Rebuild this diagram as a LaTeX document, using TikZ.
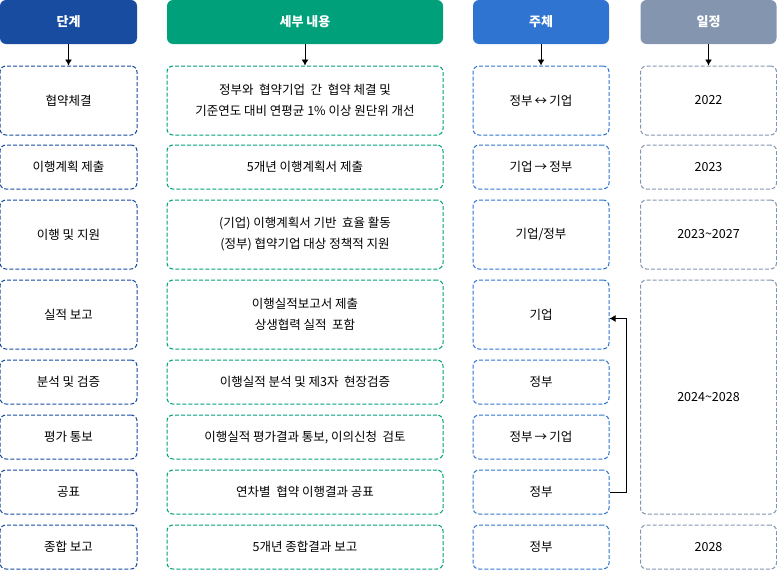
\documentclass[tikz,border=0pt]{standalone}
\usepackage{fontspec}
\setmainfont{Noto Sans CJK KR}
\usepackage{tikz}
\usetikzlibrary{arrows.meta}
\definecolor{stepblue}{RGB}{24,76,160}
\definecolor{textgreen}{RGB}{0,160,122}
\definecolor{whoblue}{RGB}{46,116,208}
\definecolor{dategray}{RGB}{132,150,175}
\tikzset{head/.style={rectangle, rounded corners=6pt, inner sep=0pt, minimum height=44pt, text=white, font=\bfseries\fontsize{13}{16}\selectfont},
  box/.style={rectangle, rounded corners=6pt, dash pattern=on 4pt off 2pt, line width=1pt, inner sep=0pt, align=center, font=\fontsize{12.5}{21}\selectfont}}
\tikzstyle{arrow} = [line width=0.9pt,-{Latex[length=6pt,width=7pt]}]

\begin{document}
\begin{tikzpicture}[x=1pt,y=-1pt]
% 画布大小 与原图一致
\useasboundingbox (0,0) rectangle (777,570);
% 四个表头
\node[head, fill=stepblue, minimum width=137pt] (h1) at (68.5,22) {단계};
\node[head, fill=textgreen, minimum width=276pt] (h2) at (305,22) {세부 내용};
\node[head, fill=whoblue, minimum width=136pt] (h3) at (541,22) {주체};
\node[head, fill=dategray, minimum width=136pt] (h4) at (708.5,22) {일정};

% 第一列 단계
\node[box, draw=stepblue, minimum width=137pt, minimum height=69pt] (s1) at (68.5,100.5) {협약체결};
\node[box, draw=stepblue, minimum width=137pt, minimum height=44pt] (s2) at (68.5,167) {이행계획 제출};
\node[box, draw=stepblue, minimum width=137pt, minimum height=69pt] (s3) at (68.5,234.5) {이행 및 지원};
\node[box, draw=stepblue, minimum width=137pt, minimum height=69pt] (s4) at (68.5,314.5) {실적 보고};
\node[box, draw=stepblue, minimum width=137pt, minimum height=44pt] (s5) at (68.5,382) {분석 및 검증};
\node[box, draw=stepblue, minimum width=137pt, minimum height=44pt] (s6) at (68.5,437) {평가 통보};
\node[box, draw=stepblue, minimum width=137pt, minimum height=44pt] (s7) at (68.5,492) {공표};
\node[box, draw=stepblue, minimum width=137pt, minimum height=44pt] (s8) at (68.5,547) {종합 보고};

% 第二列 세부 내용
\node[box, draw=textgreen, minimum width=276pt, minimum height=69pt] (t1) at (305,100.5) {정부와\ \ 협약기업\ \ 간\ \ 협약 체결 및\\기준연도 대비 연평균 1\% 이상 원단위 개선};
\node[box, draw=textgreen, minimum width=276pt, minimum height=44pt] (t2) at (305,167) {5개년 이행계획서 제출};
\node[box, draw=textgreen, minimum width=276pt, minimum height=69pt] (t3) at (305,234.5) {(기업) 이행계획서 기반\ \ 효율 활동\\(정부) 협약기업 대상 정책적 지원};
\node[box, draw=textgreen, minimum width=276pt, minimum height=69pt] (t4) at (305,314.5) {이행실적보고서 제출\\상생협력 실적\ \ 포함};
\node[box, draw=textgreen, minimum width=276pt, minimum height=44pt] (t5) at (305,382) {이행실적 분석 및 제3자\ \ 현장검증};
\node[box, draw=textgreen, minimum width=276pt, minimum height=44pt] (t6) at (305,437) {이행실적 평가결과 통보, 이의신청\ \ 검토};
\node[box, draw=textgreen, minimum width=276pt, minimum height=44pt] (t7) at (305,492) {연차별\ \ 협약 이행결과 공표};
\node[box, draw=textgreen, minimum width=276pt, minimum height=44pt] (t8) at (305,547) {5개년 종합결과 보고};

% 第三列 주체
\node[box, draw=whoblue, minimum width=136pt, minimum height=69pt] (w1) at (541,100.5) {정부\,↔\,기업};
\node[box, draw=whoblue, minimum width=136pt, minimum height=44pt] (w2) at (541,167) {기업\,→\,정부};
\node[box, draw=whoblue, minimum width=136pt, minimum height=69pt] (w3) at (541,234.5) {기업/정부};
\node[box, draw=whoblue, minimum width=136pt, minimum height=69pt] (w4) at (541,314.5) {기업};
\node[box, draw=whoblue, minimum width=136pt, minimum height=44pt] (w5) at (541,382) {정부};
\node[box, draw=whoblue, minimum width=136pt, minimum height=44pt] (w6) at (541,437) {정부\,→\,기업};
\node[box, draw=whoblue, minimum width=136pt, minimum height=44pt] (w7) at (541,492) {정부};
\node[box, draw=whoblue, minimum width=136pt, minimum height=44pt] (w8) at (541,547) {정부};

% 第四列 일정, 2024~2028 跨四行
\node[box, draw=dategray, minimum width=136pt, minimum height=69pt] (d1) at (708.5,100.5) {2022};
\node[box, draw=dategray, minimum width=136pt, minimum height=44pt] (d2) at (708.5,167) {2023};
\node[box, draw=dategray, minimum width=136pt, minimum height=69pt] (d3) at (708.5,234.5) {2023\char`~2027};
\node[box, draw=dategray, minimum width=136pt, minimum height=234pt] (d4) at (708.5,397) {2024\char`~2028};
\node[box, draw=dategray, minimum width=136pt, minimum height=44pt] (d8) at (708.5,547) {2028};

% 表头到第一行的箭头
\draw[arrow] (h1) -- (s1);
\draw[arrow] (h2) -- (t1);
\draw[arrow] (h3) -- (w1);
\draw[arrow] (h4) -- (d1);
% 공표 回到 실적 보고 的箭头
\draw[arrow] (w7.east) -- ++(17,0) |- ([yshift=-4pt]w4.east);
\end{tikzpicture}
\end{document}
